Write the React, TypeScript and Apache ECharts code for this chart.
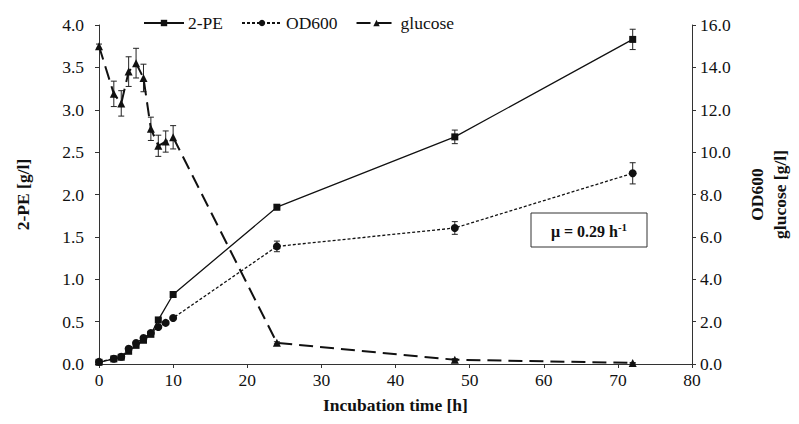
import React, { useEffect, useRef } from "react";
import * as echarts from "echarts";

const peTime = [0, 2, 3, 4, 5, 6, 7, 8, 10, 24, 48, 72];
const peValues = [0.02, 0.06, 0.08, 0.15, 0.22, 0.28, 0.35, 0.52, 0.82, 1.85, 2.68, 3.83];
const peErr = [0.01, 0.01, 0.01, 0.01, 0.01, 0.01, 0.01, 0.02, 0.02, 0.03, 0.08, 0.12];

const odTime = [0, 2, 3, 4, 5, 6, 7, 8, 9, 10, 24, 48, 72];
const odValues = [0.1, 0.25, 0.34, 0.72, 0.99, 1.23, 1.46, 1.75, 1.94, 2.17, 5.55, 6.42, 9.0];
const odErr = [0.02, 0.02, 0.02, 0.03, 0.03, 0.03, 0.04, 0.04, 0.05, 0.06, 0.25, 0.3, 0.5];

const glcTime = [0, 2, 3, 4, 5, 6, 7, 8, 9, 10, 24, 48, 72];
const glcValues = [15.0, 12.75, 12.3, 13.8, 14.2, 13.5, 11.1, 10.3, 10.5, 10.7, 1.0, 0.2, 0.05];
const glcErr = [0.1, 0.6, 0.6, 0.7, 0.7, 0.65, 0.55, 0.5, 0.5, 0.55, 0.05, 0.05, 0.02];

const xTicks = { min: 0, max: 80, interval: 10 };
const leftTicks = { min: 0, max: 4, interval: 0.5 };
const rightTicks = { min: 0, max: 16, interval: 2 };

const FONT = "'Liberation Serif', 'Times New Roman', serif";
const FS = 17.5;

function errorSeries(times: number[], vals: number[], errs: number[], yAxisIndex: number) {
  return {
    type: "custom",
    yAxisIndex,
    silent: true,
    z: 1,
    data: times.map((t, i) => [t, vals[i] - errs[i], vals[i] + errs[i]]),
    renderItem: (params: any, api: any) => {
      const x = api.value(0);
      const lo = api.coord([x, api.value(1)]);
      const hi = api.coord([x, api.value(2)]);
      const cap = 3;
      const style = { stroke: "#222", lineWidth: 1 };
      return {
        type: "group",
        children: [
          { type: "line", shape: { x1: lo[0], y1: lo[1], x2: hi[0], y2: hi[1] }, style },
          { type: "line", shape: { x1: lo[0] - cap, y1: lo[1], x2: lo[0] + cap, y2: lo[1] }, style },
          { type: "line", shape: { x1: hi[0] - cap, y1: hi[1], x2: hi[0] + cap, y2: hi[1] }, style },
        ],
      };
    },
  };
}

export default function App() {
  const ref = useRef<HTMLDivElement>(null);
  useEffect(() => {
    if (!ref.current) return;
    const chart = echarts.init(ref.current, null, { renderer: "svg" });
    const axisLine = { show: true, lineStyle: { color: "#333", width: 1 } };
    const axisTick = { show: true, inside: false, length: 4, lineStyle: { color: "#333" } };
    const labelStyle = { color: "#111", fontFamily: FONT, fontSize: FS };
    const titleStyle = { color: "#111", fontFamily: FONT, fontSize: FS, fontWeight: "bold" };
    chart.setOption({
      animation: false,
      backgroundColor: "#fff",
      textStyle: { fontFamily: FONT },
      grid: { left: 99, right: 99, top: 25, bottom: 60, containLabel: false },
      legend: {
        left: 143,
        top: 14,
        padding: 0,
        itemWidth: 40,
        itemHeight: 8,
        itemGap: 18,
        textStyle: { color: "#111", fontFamily: FONT, fontSize: FS, padding: [0, 0, 0, -1] },
        data: ["2-PE", "OD600", "glucose"],
      },
      xAxis: {
        type: "value",
        ...xTicks,
        axisLine,
        axisTick,
        splitLine: { show: false },
        axisLabel: { ...labelStyle, margin: 7 },
        name: "Incubation time [h]",
        nameLocation: "middle",
        nameGap: 32,
        nameTextStyle: titleStyle,
      },
      yAxis: [
        {
          type: "value",
          ...leftTicks,
          position: "left",
          axisLine,
          axisTick,
          splitLine: { show: false },
          axisLabel: { ...labelStyle, margin: 15, formatter: (v: number) => v.toFixed(1) },
          name: "2-PE [g/l]",
          nameLocation: "middle",
          nameRotate: 90,
          nameGap: 67,
          nameTextStyle: titleStyle,
        },
        {
          type: "value",
          ...rightTicks,
          position: "right",
          axisLine,
          axisTick,
          splitLine: { show: false },
          axisLabel: { ...labelStyle, margin: 8, formatter: (v: number) => v.toFixed(1) },
          name: "OD600\nglucose [g/l]",
          nameLocation: "middle",
          nameRotate: 90,
          nameGap: 53,
          nameTextStyle: { ...titleStyle, lineHeight: 23 },
        },
      ],
      series: [
        errorSeries(peTime, peValues, peErr, 0),
        errorSeries(odTime, odValues, odErr, 1),
        errorSeries(glcTime, glcValues, glcErr, 1),
        {
          name: "2-PE",
          type: "line",
          yAxisIndex: 0,
          data: peTime.map((t, i) => [t, peValues[i]]),
          symbol: "rect",
          symbolSize: 7,
          itemStyle: { color: "#111" },
          lineStyle: { color: "#111", width: 1.3, type: "solid" },
          z: 3,
        },
        {
          name: "OD600",
          type: "line",
          yAxisIndex: 1,
          data: odTime.map((t, i) => [t, odValues[i]]),
          symbol: "circle",
          symbolSize: 8,
          itemStyle: { color: "#111" },
          lineStyle: { color: "#111", width: 1.3, type: [3, 2] },
          z: 3,
        },
        {
          name: "glucose",
          type: "line",
          yAxisIndex: 1,
          data: glcTime.map((t, i) => [t, glcValues[i]]),
          symbol: "triangle",
          symbolSize: 8,
          itemStyle: { color: "#111" },
          lineStyle: { color: "#111", width: 2, type: [14, 7] },
          z: 3,
        },
      ],
      graphic: [
        {
          type: "rect",
          shape: { x: 531, y: 213, width: 116, height: 34 },
          style: { fill: "#fff", stroke: "#333", lineWidth: 1 },
          z: 10,
        },
        {
          type: "text",
          x: 589,
          y: 231,
          z: 11,
          style: {
            text: "{b|μ = 0.29 h}{s|-1}",
            align: "center",
            verticalAlign: "middle",
            rich: {
              b: { fontFamily: FONT, fontSize: 16, fontWeight: "bold", fill: "#111" },
              s: {
                fontFamily: FONT,
                fontSize: 11,
                fontWeight: "bold",
                fill: "#111",
                verticalAlign: "top",
                padding: [0, 0, 8, 0],
              },
            },
          },
        },
      ],
    });
    return () => chart.dispose();
  }, []);
  return (
    <div
      ref={ref}
      style={{ position: "fixed", left: 0, top: 0, width: 799, height: 424 }}
    />
  );
}
